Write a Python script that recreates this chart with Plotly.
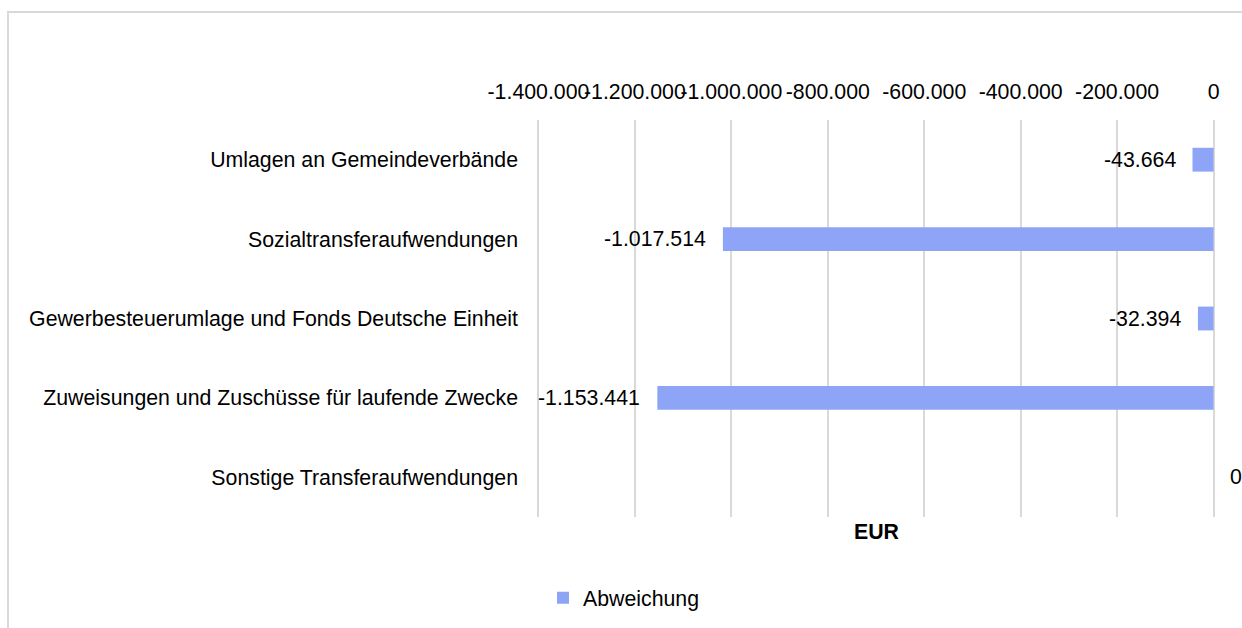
import plotly.graph_objects as go

categories = [
    "Umlagen an Gemeindeverbände",
    "Sozialtransferaufwendungen",
    "Gewerbesteuerumlage und Fonds Deutsche Einheit",
    "Zuweisungen und Zuschüsse für laufende Zwecke",
    "Sonstige Transferaufwendungen",
]
values = [-43664, -1017514, -32394, -1153441, 0]
value_labels = ["-43.664", "-1.017.514", "-32.394", "-1.153.441", "0"]
tick_vals = [-1400000, -1200000, -1000000, -800000, -600000, -400000, -200000, 0]
tick_text = ["-1.400.000", "-1.200.000", "-1.000.000", "-800.000", "-600.000",
             "-400.000", "-200.000", "0"]
series_name = "Abweichung"
axis_title = "EUR"

W, H = 1242, 628
L, R, T, B = 537, 27, 120, 111
PW, PH = W - L - R, H - T - B
FONT = "Liberation Sans, Arial, sans-serif"
BAR = "#8DA4F7"
GRID = "#D9D9D9"
FS = 21.3

fig = go.Figure()
fig.add_trace(go.Bar(
    x=values, y=categories, orientation="h", name=series_name,
    marker=dict(color=BAR, line=dict(width=0)), width=0.3,
    showlegend=True, hoverinfo="x+y",
))

annotations = []
for c, v, t in zip(categories, values, value_labels):
    neg = v < 0
    annotations.append(dict(x=v, y=c, xref="x", yref="y", text=t, showarrow=False,
                            xanchor="right" if neg else "left", yanchor="middle",
                            xshift=-15 if neg else 14,
                            font=dict(family=FONT, size=FS, color="#000")))
annotations.append(dict(x=0.5, y=0, xref="paper", yref="paper", text="<b>" + axis_title + "</b>",
                        showarrow=False, xanchor="center", yanchor="top", yshift=-1,
                        font=dict(family=FONT, size=FS, color="#000")))

def px_to_paper_x(px):
    return (px - L) / PW

def px_to_paper_y(py):
    return 1 + (T - py) / PH

shapes = [dict(type="rect", xref="paper", yref="paper",
               x0=px_to_paper_x(8), x1=px_to_paper_x(1260),
               y0=px_to_paper_y(660), y1=px_to_paper_y(12),
               line=dict(color=GRID, width=2), fillcolor="rgba(0,0,0,0)", layer="below")]

fig.update_layout(
    width=W, height=H,
    margin=dict(l=L, r=R, t=T, b=B, pad=0),
    paper_bgcolor="white", plot_bgcolor="white",
    font=dict(family=FONT, size=FS, color="#000"),
    showlegend=True,
    legend=dict(orientation="h", xref="container", yref="container",
                x=624 / W, y=1 - 598 / H, xanchor="center", yanchor="middle",
                font=dict(family=FONT, size=FS, color="#000"),
                itemwidth=30, bgcolor="rgba(0,0,0,0)"),
    annotations=annotations,
    shapes=shapes,
)
fig.update_xaxes(
    side="top", range=[-1403000, 3000], tickvals=tick_vals, ticktext=tick_text,
    tickangle=0,
    showgrid=True, gridcolor=GRID, gridwidth=2, zeroline=False,
    showline=False, ticks="", ticklabelstandoff=16,
    tickfont=dict(family=FONT, size=FS, color="#000"), fixedrange=True,
)
fig.update_yaxes(
    autorange="reversed", showgrid=False, zeroline=False, showline=False,
    ticks="", ticklabelstandoff=18,
    tickfont=dict(family=FONT, size=FS, color="#000"), fixedrange=True,
)

fig.write_html("out.html", config={"displayModeBar": False},
               post_script="document.body.style.margin='0';")
